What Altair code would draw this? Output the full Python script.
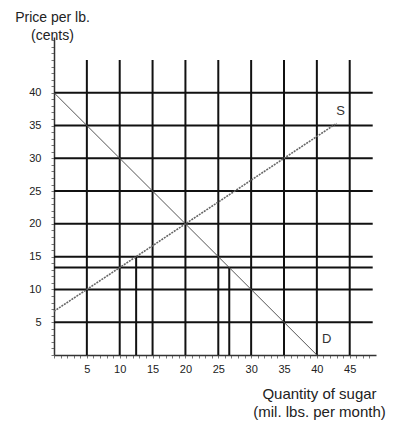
import altair as alt
import pandas as pd

# grid lines
grid_x = [5, 10, 15, 20, 25, 30, 35, 40, 45]
grid_x_top = 45
grid_y = [5, 10, 13.33, 15, 20, 25, 30, 35, 40]
grid_y_right = 48.5

# partial verticals (quantity, height)
part_q = [12.5, 26.67]
part_p = [15, 13.33]

# supply and demand
supply_q = [0, 43]
supply_p = [6.67, 35.33]
demand_q = [0, 40]
demand_p = [40, 0]

labels = ["S", "D"]
label_q = [43.6, 41.5]
label_p = [37.2, 2.4]

xs = alt.Scale(domain=[0, 49], nice=False, zero=False)
ys = alt.Scale(domain=[0, 48.5], nice=False, zero=False)

vdf = pd.DataFrame({"q": grid_x, "p": [0] * len(grid_x), "p2": [grid_x_top] * len(grid_x)})
hdf = pd.DataFrame({"p": grid_y, "q": [0] * len(grid_y), "q2": [grid_y_right] * len(grid_y)})
pdf = pd.DataFrame({"q": part_q, "p": [0, 0], "p2": part_p})
sdf = pd.DataFrame({"q": supply_q, "p": supply_p})
ddf = pd.DataFrame({"q": demand_q, "p": demand_p})
ldf = pd.DataFrame({"t": labels, "q": label_q, "p": label_p})

tick_vals = list(range(0, 49))

xaxis = alt.Axis(
    values=tick_vals,
    labelExpr="datum.value % 5 == 0 && datum.value > 0 ? datum.label : ''",
    labelOverlap=False,
    grid=False, tickSize=3, tickColor="#777", domainColor="#333", domainWidth=1.5,
    labelFont="Liberation Sans", labelFontSize=11, labelColor="#222", labelPadding=5,
    title=["Quantity of sugar", "(mil. lbs. per month)"],
    titleFont="Liberation Sans", titleFontSize=15, titleFontWeight="normal", titleColor="#222",
    titleX=265, titleY=38, titleAlign="center", titleBaseline="middle", titleLineHeight=18,
    labelFlush=False,
)
yaxis = alt.Axis(
    values=tick_vals,
    labelExpr="datum.value % 5 == 0 && datum.value > 0 && datum.value <= 40 ? datum.label : ''",
    labelOverlap=False,
    grid=False, tickSize=3, tickColor="#777", domainColor="#333", domainWidth=1.5,
    labelFont="Liberation Sans", labelFontSize=11, labelColor="#222", labelPadding=10,
    title=["Price per lb.", "(cents)"],
    titleFont="Liberation Sans", titleFontSize=14, titleFontWeight="normal", titleColor="#222",
    titleAngle=0, titleX=-2, titleY=-20, titleAlign="center", titleBaseline="middle",
    titleLineHeight=18, labelFlush=False,
)

X = alt.X("q:Q", scale=xs, axis=xaxis)
Y = alt.Y("p:Q", scale=ys, axis=yaxis)

vlines = alt.Chart(vdf).mark_rule(color="#111", strokeWidth=2).encode(x=X, y=Y, y2="p2:Q")
hlines = alt.Chart(hdf).mark_rule(color="#111", strokeWidth=2).encode(y=Y, x=X, x2="q2:Q")
plines = alt.Chart(pdf).mark_rule(color="#111", strokeWidth=2).encode(x=X, y=Y, y2="p2:Q")
supply = alt.Chart(sdf).mark_line(color="#666", strokeWidth=1.6, strokeDash=[2, 1]).encode(x=X, y=Y)
demand = alt.Chart(ddf).mark_line(color="#555", strokeWidth=1).encode(x=X, y=Y)
text = alt.Chart(ldf).mark_text(font="Liberation Sans", fontSize=13, color="#333").encode(
    x=X, y=Y, text="t:N"
)

chart = alt.layer(vlines, hlines, plines, demand, supply, text).properties(
    width=322, height=318,
    autosize=alt.AutoSizeParams(type="none"),
    padding={"left": 46, "top": 29, "right": 12, "bottom": 70},
).configure(background="white").configure_view(stroke=None, strokeWidth=0)

chart.save("out.html", embed_options={"renderer": "svg", "actions": False})
